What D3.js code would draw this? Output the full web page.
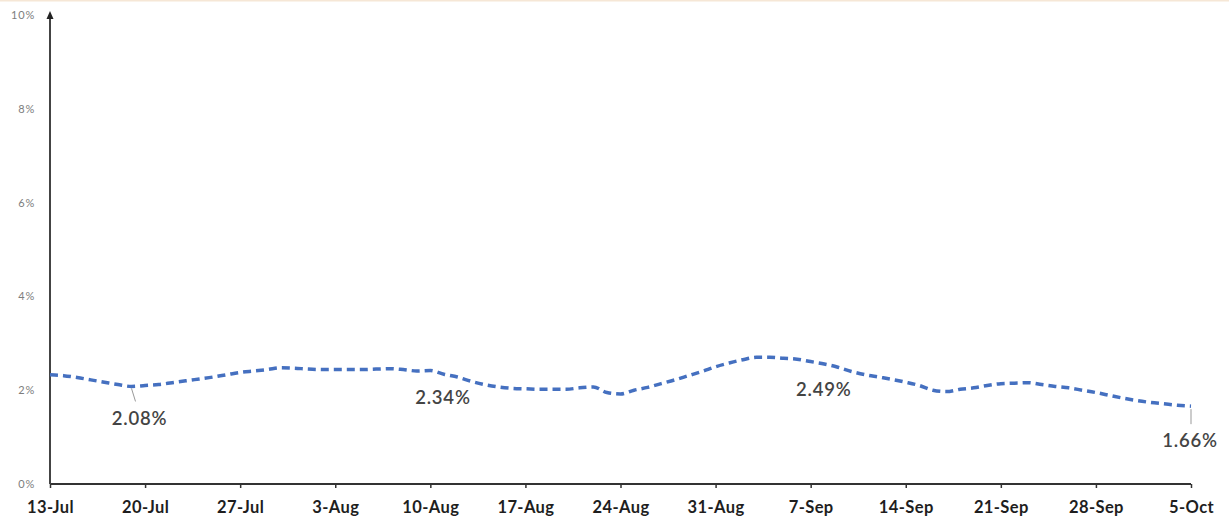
<!DOCTYPE html>
<html><head><meta charset="utf-8">
<script src="https://cdn.jsdelivr.net/npm/d3@7"></script>
<style>
html,body{margin:0;padding:0;background:#fff;}
svg{display:block;}
</style></head>
<body>
<svg id="chart" width="1229" height="525"></svg>
<script>
const startDate = "2020-07-13";
const values = [2.33,2.31,2.27,2.22,2.17,2.12,2.08,2.10,2.12,2.16,2.20,2.24,2.28,2.33,2.38,2.41,2.44,2.48,2.47,2.45,2.44,2.44,2.44,2.44,2.45,2.46,2.44,2.41,2.42,2.34,2.28,2.19,2.12,2.07,2.04,2.03,2.02,2.02,2.02,2.05,2.07,1.95,1.92,2.00,2.06,2.14,2.22,2.31,2.40,2.50,2.58,2.65,2.70,2.70,2.68,2.66,2.61,2.56,2.49,2.40,2.33,2.28,2.23,2.17,2.10,2.00,1.97,2.02,2.05,2.10,2.14,2.15,2.16,2.12,2.08,2.05,2.00,1.95,1.89,1.83,1.78,1.74,1.71,1.68,1.66];
const tickLabels = ["13-Jul","20-Jul","27-Jul","3-Aug","10-Aug","17-Aug","24-Aug","31-Aug","7-Sep","14-Sep","21-Sep","28-Sep","5-Oct"];
const yTicks = [0,2,4,6,8,10];
const labelledDays = [6,29,58,84];

const svg = d3.select("#chart");
const x = d3.scaleLinear().domain([0,84]).range([50,1191]);
const y = d3.scaleLinear().domain([0,10]).range([484,15]);

// faint top border
svg.append("line").attr("x1",0).attr("x2",1229).attr("y1",0.5).attr("y2",0.5)
  .attr("stroke","#f6e7d6").attr("stroke-width",2);

// y tick labels
svg.selectAll("text.ylab").data(yTicks).enter().append("text")
  .attr("class","ylab").attr("x",35).attr("y",d=>y(d)+4)
  .attr("text-anchor","end").attr("font-family","Lato, 'Open Sans', sans-serif")
  .attr("font-size",11).attr("letter-spacing",0.8).attr("fill","#7d7d7d").text(d=>d+"%");

// x axis
const xAxis = d3.axisBottom(x).tickValues(d3.range(0,85,7)).tickSize(4).tickFormat((d,i)=>tickLabels[i]);
const gx = svg.append("g").attr("transform",`translate(0,${y(0)})`).call(xAxis);
gx.select(".domain").attr("stroke","#333").attr("stroke-width",2).attr("d",`M${x(0)},0H${x(84)}`);
gx.selectAll(".tick line").attr("stroke","#333").attr("stroke-width",1.5);
gx.selectAll(".tick text").attr("font-family","Lato, 'Open Sans', sans-serif").attr("font-weight","bold")
  .attr("font-size",16.5).attr("letter-spacing",0.4).attr("fill","#1e1e1e").attr("y",12).attr("dy","1.05em");

// y axis line with arrow
svg.append("line").attr("x1",x(0)).attr("x2",x(0)).attr("y1",y(0)).attr("y2",y(10)+2)
  .attr("stroke","#444").attr("stroke-width",2);
svg.append("path").attr("d",`M${x(0)-3.5},${y(10)+4} L${x(0)},${y(10)-4} L${x(0)+3.5},${y(10)+4} Z`).attr("fill","#222");

// line
const line = d3.line().x((d,i)=>x(i)).y(d=>y(d)).curve(d3.curveMonotoneX);
svg.append("path").datum(values).attr("d",line).attr("fill","none")
  .attr("stroke","#4570C0").attr("stroke-width",3.5).attr("stroke-dasharray","8,5");

// data labels
const labelOffsets = {6:{dx:8,dy:39,lead:[[0,2],[4,15]]},29:{dx:-1,dy:30,lead:null},58:{dx:-14,dy:29,lead:null},84:{dx:-1,dy:41,lead:[[0,3],[0,18]]}};
labelledDays.forEach(d=>{
  const o = labelOffsets[d];
  const px = x(d), py = y(values[d]);
  if(o.lead){
    svg.append("line").attr("x1",px+o.lead[0][0]).attr("y1",py+o.lead[0][1])
      .attr("x2",px+o.lead[1][0]).attr("y2",py+o.lead[1][1]).attr("stroke","#999").attr("stroke-width",1);
  }
  svg.append("text").attr("x",px+o.dx).attr("y",py+o.dy).attr("text-anchor","middle")
    .attr("font-family","Lato, 'Open Sans', sans-serif").attr("font-size",18.5).attr("font-weight",600)
    .attr("letter-spacing",0.8).attr("fill","#444")
    .text(values[d].toFixed(2)+"%");
});
</script>
</body></html>
